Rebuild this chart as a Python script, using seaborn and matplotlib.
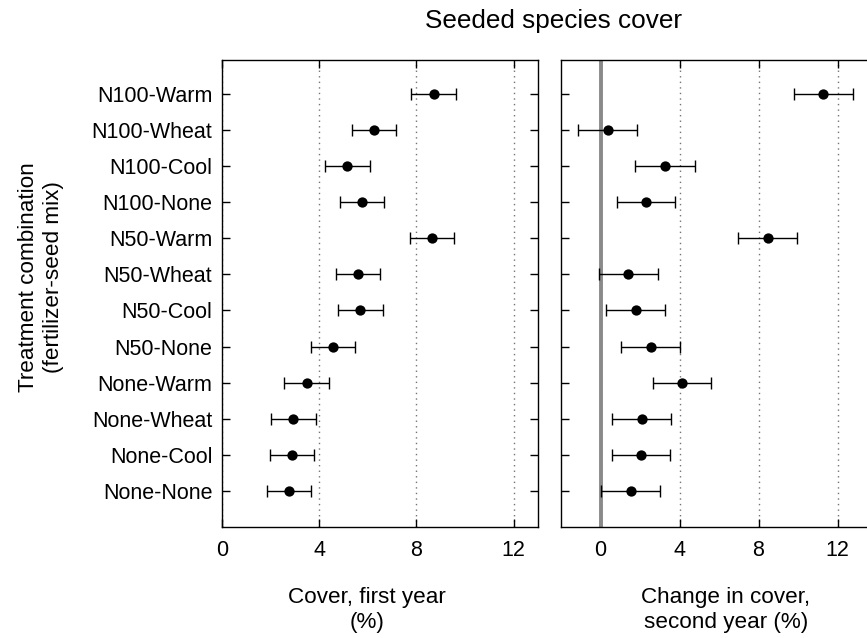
import numpy as np
import pandas as pd
import matplotlib
matplotlib.use("Agg")
import matplotlib.pyplot as plt
import seaborn as sns

# ---------------------------------------------------------
# data
# ---------------------------------------------------------

treatments = [
    "N100-Warm", "N100-Wheat", "N100-Cool", "N100-None",
    "N50-Warm", "N50-Wheat", "N50-Cool", "N50-None",
    "None-Warm", "None-Wheat", "None-Cool", "None-None",
]

cover_first = [8.71, 6.25, 5.15, 5.77, 8.64, 5.59, 5.69, 4.58, 3.48, 2.93, 2.88, 2.77]
cover_first_err = [0.93, 0.91, 0.92, 0.91, 0.91, 0.91, 0.92, 0.91, 0.91, 0.92, 0.90, 0.90]

change_second = [11.27, 0.37, 3.26, 2.31, 8.47, 1.40, 1.79, 2.54, 4.12, 2.08, 2.04, 1.54]
change_second_err = [1.49, 1.49, 1.50, 1.48, 1.50, 1.50, 1.50, 1.49, 1.48, 1.49, 1.48, 1.49]

x_ticks = [0, 4, 8, 12]

df = pd.DataFrame({
    "treatment": treatments,
    "pos": np.arange(len(treatments))[::-1],
    "first": cover_first,
    "first_err": cover_first_err,
    "change": change_second,
    "change_err": change_second_err,
})

# ---------------------------------------------------------
# style
# ---------------------------------------------------------

sns.set_theme(style="white")
plt.rcParams["font.family"] = ["Liberation Sans", "DejaVu Sans"]
plt.rcParams["axes.edgecolor"] = "black"
plt.rcParams["axes.linewidth"] = 1.0
plt.rcParams["text.color"] = "black"
plt.rcParams["axes.labelcolor"] = "black"
plt.rcParams["xtick.color"] = "black"
plt.rcParams["ytick.color"] = "black"

W, H = 867, 638
fig = plt.figure(figsize=(W / 100, H / 100), dpi=100)

ax1 = fig.add_axes([222 / W, 110.7 / H, 316 / W, 467.3 / H])
ax2 = fig.add_axes([561 / W, 110.7 / H, 316 / W, 467.3 / H])


def draw_panel(ax, col, err, xlim):

    ax.xaxis.grid(True, linestyle=(0, (1, 3)), color="0.45", linewidth=1.0)
    ax.set_axisbelow(True)

    ax.errorbar(
        df[col], df["pos"],
        xerr=df[err],
        fmt="none",
        ecolor="black",
        elinewidth=1.0,
        capsize=4.3,
        capthick=1.0,
        zorder=3,
    )

    sns.scatterplot(
        data=df, x=col, y="pos",
        color="black", edgecolor="black",
        s=55, linewidth=0,
        ax=ax, zorder=4,
    )

    ax.set_xlim(*xlim)
    ax.set_ylim(-1.0, 11.93)
    ax.set_xticks(x_ticks)
    ax.set_yticks(df["pos"])
    ax.tick_params(
        direction="in", length=6, width=1, colors="black",
        top=True, bottom=True, left=True, right=True,
        labelsize=15.5,
    )
    ax.tick_params(axis="x", pad=9)
    ax.tick_params(axis="y", pad=7)


draw_panel(ax1, "first", "first_err", (0, 13))
ax1.set_yticklabels(df["treatment"])
ax1.set_ylabel("")
ax1.set_xlabel("Cover, first year\n(%)", fontsize=16.2, linespacing=1.25)
ax1.xaxis.set_label_coords(0.459, -0.127)

ax2.axvline(0, color="#8a8a8a", linewidth=2.8, zorder=2)
draw_panel(ax2, "change", "change_err", (-2, 14))
ax2.set_yticklabels([])
ax2.set_ylabel("")
ax2.set_xlabel("Change in cover,\nsecond year (%)", fontsize=16.2, linespacing=1.25)
ax2.xaxis.set_label_coords(0.522, -0.127)

for a in (ax1, ax2):
    a.xaxis.label.set_verticalalignment("top")

fig.text(
    41 / W, 1 - 277 / H,
    "Treatment combination\n(fertilizer-seed mix)",
    rotation=90, ha="center", va="center",
    fontsize=16.2, linespacing=1.3, multialignment="center",
)

fig.text(553.5 / W, 1 - 21 / H, "Seeded species cover",
         ha="center", va="center", fontsize=18.8)

fig.savefig("out.png", dpi=100)
